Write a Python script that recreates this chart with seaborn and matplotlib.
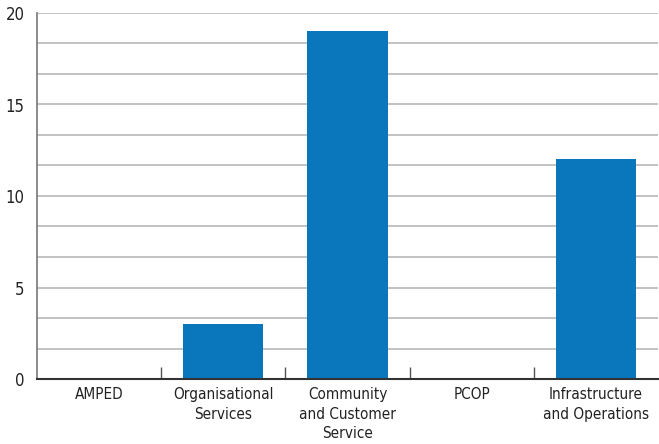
import matplotlib
matplotlib.use("Agg")
import matplotlib.pyplot as plt
from matplotlib.ticker import FixedLocator
import seaborn as sns
import pandas as pd
import numpy as np

categories = ["AMPED", "Organisational\nServices", "Community\nand Customer\nService", "PCOP",
              "Infrastructure\nand Operations"]
values = [0, 3, 19, 0, 12]

sns.set_style("white")
plt.rcParams['font.family'] = ['DejaVu Sans']
plt.rcParams['font.stretch'] = 'condensed'

df = pd.DataFrame({"cat": categories, "val": values})

fig = plt.figure(figsize=(6.59, 4.44), dpi=100)
ax = fig.add_axes([37/659, 1 - 379/444, 621/659, (379 - 13)/444])
sns.barplot(data=df, x="cat", y="val", color="#0a77bd", saturation=1, width=0.645,
            linewidth=0, ax=ax)

ax.set_ylim(0, 20)
ax.set_xlim(-0.5, 4.5)
ax.yaxis.set_major_locator(FixedLocator([0, 5, 10, 15, 20]))
ax.yaxis.set_minor_locator(FixedLocator(np.arange(1, 12) * 5 / 3))
ax.grid(axis="y", which="both", color="#b8b8b8", linewidth=1.2)
ax.set_axisbelow(True)
ax.tick_params(axis="y", which="both", length=0, pad=9)
for lbl in ax.get_yticklabels():
    lbl.set_fontsize(12)
    lbl.set_color("#222222")
    lbl.set_fontstretch("condensed")
ax.set_xlabel("")
ax.set_ylabel("")

ax.set_xticks(range(5))
ax.set_xticklabels(categories, fontsize=11, color="#222222", linespacing=1.35,
                   fontstretch="condensed")
ax.tick_params(axis="x", which="major", length=0, pad=6)
ax.xaxis.set_minor_locator(FixedLocator([0.5, 1.5, 2.5, 3.5]))
ax.tick_params(axis="x", which="minor", bottom=True, direction="in", length=9, width=1,
               color="#555555")

for s in ["top", "right"]:
    ax.spines[s].set_visible(False)
ax.spines["left"].set_color("#777777")
ax.spines["left"].set_linewidth(1.2)
ax.spines["bottom"].set_color("#333333")
ax.spines["bottom"].set_linewidth(1.5)

fig.savefig("out.png", dpi=100)
